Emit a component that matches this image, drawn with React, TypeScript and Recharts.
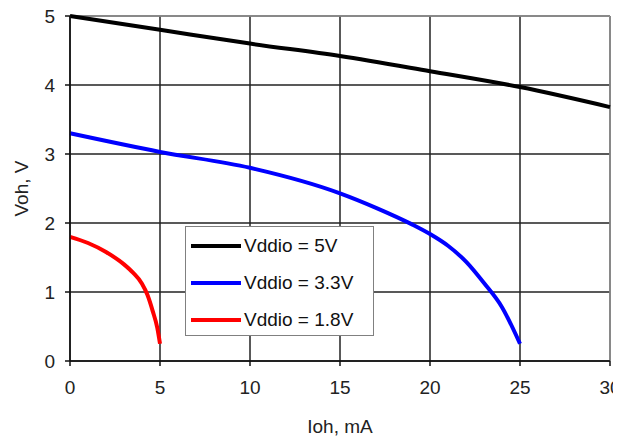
import React from "react";
import { LineChart, Line, XAxis, YAxis, CartesianGrid, ReferenceLine } from "recharts";

const xTicks = [0, 5, 10, 15, 20, 25, 30];
const yTicks = [0, 1, 2, 3, 4, 5];

const v5Current = [0, 5, 10, 15, 20, 25, 30];
const v5Voltage = [5.0, 4.8, 4.6, 4.42, 4.2, 3.97, 3.68];

const v33Current = [0, 5, 10, 15, 17, 19, 20, 21, 22, 23, 24, 25];
const v33Voltage = [3.3, 3.03, 2.8, 2.43, 2.22, 1.98, 1.84, 1.67, 1.44, 1.13, 0.78, 0.25];

const v18Current = [0, 1, 2, 3, 3.5, 4, 4.3, 4.6, 4.85, 5];
const v18Voltage = [1.8, 1.71, 1.58, 1.4, 1.28, 1.12, 0.96, 0.72, 0.48, 0.25];

const seriesNames = ["Vddio = 5V", "Vddio = 3.3V", "Vddio = 1.8V"];
const seriesColors = ["#000000", "#0000ff", "#ff0000"];

const toPoints = (xs: number[], ys: number[]) => xs.map((x, i) => ({ x, y: ys[i] }));

const series = [
  toPoints(v5Current, v5Voltage),
  toPoints(v33Current, v33Voltage),
  toPoints(v18Current, v18Voltage),
];

const FONT = "'Liberation Sans', Arial, sans-serif";

const LegendBox = () => (
  <div
    style={{
      position: "absolute",
      left: 177,
      top: 226,
      width: 187,
      height: 108,
      border: "1px solid #808080",
      background: "#fff",
      fontFamily: FONT,
      fontSize: 19,
      color: "#111",
    }}
  >
    {seriesNames.map((n, i) => (
      <div key={n} style={{ display: "flex", alignItems: "center", height: 37 }}>
        <div style={{ width: 50, height: 4, background: seriesColors[i], marginLeft: 5, marginRight: 3 }} />
        <span>{n}</span>
      </div>
    ))}
  </div>
);

const YLabel = (props: any) => {
  const vb = props.viewBox || {};
  const cx = vb.x + 13;
  const cy = vb.y + vb.height / 2;
  return (
    <text
      x={cx}
      y={cy}
      transform={`rotate(-90 ${cx} ${cy})`}
      textAnchor="middle"
      dominantBaseline="central"
      fontFamily={FONT}
      fontSize={19}
      fill="#222"
    >
      Voh, V
    </text>
  );
};

export default function App() {
  return (
    <div style={{ position: "relative", width: 613, height: 437, marginTop: -8 }}>
      <LineChart width={613} height={437} margin={{ top: 16, right: 11, left: 0, bottom: 0 }}>
        <CartesianGrid stroke="#222" strokeWidth={1.5} horizontalValues={yTicks} verticalValues={xTicks} />
        <XAxis
          type="number"
          dataKey="x"
          domain={[0, 30]}
          ticks={xTicks}
          interval={0}
          height={76}
          stroke="#111"
          strokeWidth={1.5}
          tickSize={5}
          tickMargin={15}
          tick={{ fontFamily: FONT, fontSize: 19, fill: "#222" }}
          label={{ value: "Ioh, mA", position: "insideBottom", offset: 4, fontFamily: FONT, fontSize: 19, fill: "#222" }}
          allowDuplicatedCategory={false}
        />
        <YAxis
          type="number"
          domain={[0, 5]}
          ticks={yTicks}
          interval={0}
          width={62}
          stroke="#111"
          strokeWidth={1.5}
          tickSize={5}
          tickMargin={10}
          tick={{ fontFamily: FONT, fontSize: 19, fill: "#222" }}
          label={<YLabel />}
        />
        <ReferenceLine y={5} stroke="#9a9a9a" strokeWidth={1.5} />
        <ReferenceLine x={30} stroke="#9a9a9a" strokeWidth={1.5} />
        {series.map((pts, i) => (
          <Line
            key={seriesNames[i]}
            data={pts}
            dataKey="y"
            name={seriesNames[i]}
            type="monotone"
            stroke={seriesColors[i]}
            strokeWidth={4}
            dot={false}
            activeDot={false}
            isAnimationActive={false}
          />
        ))}
      </LineChart>
      <LegendBox />
    </div>
  );
}
